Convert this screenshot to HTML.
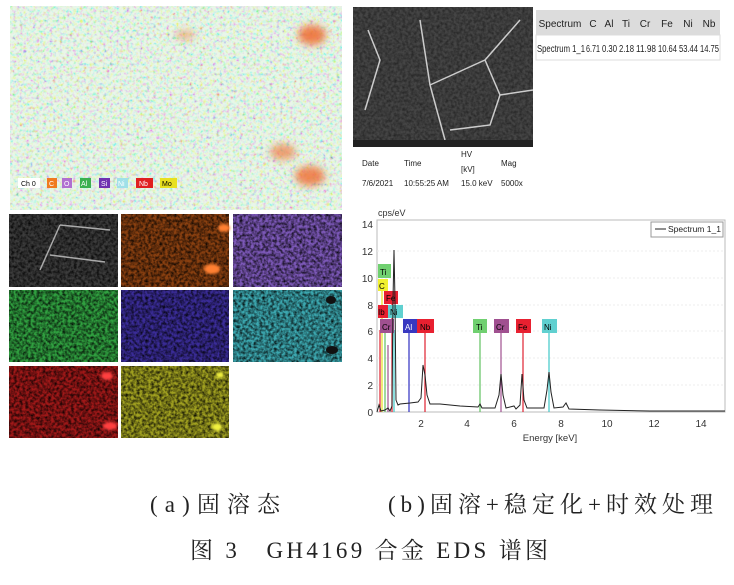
<!DOCTYPE html>
<html><head><meta charset="utf-8"><style>
body{margin:0;background:#fff;width:734px;height:580px;overflow:hidden;font-family:"Liberation Sans",sans-serif}
</style></head><body>
<svg width="734" height="580" viewBox="0 0 734 580" xmlns="http://www.w3.org/2000/svg" font-family="Liberation Sans, sans-serif">
<defs>
<filter id="n" x="0" y="0" width="100%" height="100%"><feTurbulence type="fractalNoise" baseFrequency="0.35" numOctaves="2" seed="3"/><feColorMatrix type="matrix" values="0 0 0 0 0  0 0 0 0 0  0 0 0 0 0  0 0 0 -1.6 1.1"/><feComposite in2="SourceGraphic" operator="in"/></filter>
<filter id="c" x="0" y="0" width="100%" height="100%"><feTurbulence type="fractalNoise" baseFrequency="0.3" numOctaves="2" seed="7"/><feColorMatrix type="matrix" values="3 0 0 0 -0.6  0 3 0 0 -0.5  0 0 3 0 -0.6  0 0 0 0 0.6"/><feComposite in2="SourceGraphic" operator="in"/></filter>
<filter id="b"><feGaussianBlur stdDeviation="4"/></filter>
<filter id="b2"><feGaussianBlur stdDeviation="1.2"/></filter>
</defs>
<rect x="10" y="6" width="332" height="204" fill="#d8eed8"/>
<rect x="10" y="6" width="332" height="204" fill="#fff" filter="url(#c)"/>
<rect x="10" y="6" width="332" height="204" fill="#e0f4e0" opacity=".35"/>
<g filter="url(#b)">
<ellipse cx="312" cy="35" rx="14" ry="10" fill="#f06a30" opacity=".85"/>
<ellipse cx="283" cy="152" rx="13" ry="8" fill="#f07a40" opacity=".7"/>
<ellipse cx="310" cy="176" rx="15" ry="10" fill="#f06a30" opacity=".8"/>
<ellipse cx="185" cy="35" rx="10" ry="4" fill="#f07a40" opacity=".6"/>
</g>
<g font-size="7">
<rect x="18" y="178" width="22" height="10" fill="#fff"/><text x="21" y="186">Ch 0</text>
<rect x="47" y="178" width="10" height="10" fill="#f07a20"/><text x="49" y="186" fill="#fff">C</text>
<rect x="62" y="178" width="10" height="10" fill="#b070d0"/><text x="64" y="186" fill="#fff">O</text>
<rect x="80" y="178" width="11" height="10" fill="#3cb050"/><text x="81" y="186" fill="#fff">Al</text>
<rect x="99" y="178" width="11" height="10" fill="#7030b0"/><text x="101" y="186" fill="#fff">Si</text>
<rect x="117" y="178" width="11" height="10" fill="#a0e0e8"/><text x="118" y="186" fill="#fff">Ni</text>
<rect x="136" y="178" width="17" height="10" fill="#e02020"/><text x="139" y="186" fill="#fff">Nb</text>
<rect x="160" y="178" width="17" height="10" fill="#e8e020"/><text x="162" y="186">Mo</text>
</g>
<g>
<rect x="9" y="214" width="109" height="73" fill="#3c3c3c"/>
<rect x="121" y="214" width="108" height="73" fill="#8a4010"/>
<rect x="233" y="214" width="109" height="73" fill="#7c58b8"/>
<rect x="9" y="290" width="109" height="72" fill="#30a040"/>
<rect x="121" y="290" width="108" height="72" fill="#3a2c98"/>
<rect x="233" y="290" width="109" height="72" fill="#3ca8b0"/>
<rect x="9" y="366" width="109" height="72" fill="#a01818"/>
<rect x="121" y="366" width="108" height="72" fill="#a0a020"/>
</g>
<g filter="url(#n)" fill="#000">
<rect x="9" y="214" width="109" height="73"/><rect x="121" y="214" width="108" height="73"/><rect x="233" y="214" width="109" height="73"/>
<rect x="9" y="290" width="109" height="72"/><rect x="121" y="290" width="108" height="72"/><rect x="233" y="290" width="109" height="72"/>
<rect x="9" y="366" width="109" height="72"/><rect x="121" y="366" width="108" height="72"/>
</g>
<path d="M60 225 L40 270 M60 225 L110 230 M50 255 L105 262" stroke="#aaa" stroke-width="1.5" fill="none"/>
<g filter="url(#b2)"><ellipse cx="224" cy="228" rx="6" ry="4" fill="#ff8030"/><ellipse cx="212" cy="269" rx="8" ry="5" fill="#ff8030"/>
<ellipse cx="107" cy="376" rx="6" ry="4" fill="#ff4040"/><ellipse cx="110" cy="426" rx="7" ry="4" fill="#ff4040"/>
<ellipse cx="220" cy="375" rx="4" ry="3" fill="#f0f040"/><ellipse cx="217" cy="427" rx="5" ry="4" fill="#f0f040"/></g>
<ellipse cx="331" cy="300" rx="5" ry="4" fill="#111"/><ellipse cx="332" cy="350" rx="6" ry="4" fill="#111"/>
<rect x="353" y="7" width="180" height="140" fill="#454545"/>
<rect x="353" y="7" width="180" height="133" fill="#000" filter="url(#n)" opacity=".5"/>
<path d="M368 30 L380 60 L365 110 M420 20 L430 85 L445 140 M430 85 L485 60 L500 95 L490 125 L450 130 M485 60 L520 20 M500 95 L533 90" stroke="#ccc" stroke-width="1.5" fill="none"/>
<rect x="353" y="140" width="180" height="7" fill="#222"/>
<g font-size="8" fill="#222">
<text x="362" y="166">Date</text><text x="404" y="166">Time</text><text x="461" y="157">HV</text><text x="461" y="172">[kV]</text><text x="501" y="166">Mag</text>
<text x="362" y="186">7/6/2021</text><text x="404" y="186">10:55:25 AM</text><text x="461" y="186">15.0 keV</text><text x="501" y="186">5000x</text>
</g>
<rect x="536" y="10" width="184" height="25" fill="#dcdcdc"/>
<rect x="536" y="35" width="184" height="25" fill="#fff" stroke="#ddd"/>
<g font-size="10" fill="#222" text-anchor="middle">
<text x="560" y="27">Spectrum</text><text x="593" y="27">C</text><text x="609" y="27">Al</text><text x="626" y="27">Ti</text><text x="645" y="27">Cr</text><text x="667" y="27">Fe</text><text x="688" y="27">Ni</text><text x="709" y="27">Nb</text>
</g>
<g font-size="10" fill="#222">
<text x="537" y="52" textLength="48" lengthAdjust="spacingAndGlyphs">Spectrum 1_1</text>
<text x="586" y="52" textLength="14" lengthAdjust="spacingAndGlyphs">6.71</text>
<text x="602" y="52" textLength="15" lengthAdjust="spacingAndGlyphs">0.30</text>
<text x="619" y="52" textLength="15" lengthAdjust="spacingAndGlyphs">2.18</text>
<text x="636" y="52" textLength="20" lengthAdjust="spacingAndGlyphs">11.98</text>
<text x="658" y="52" textLength="19" lengthAdjust="spacingAndGlyphs">10.64</text>
<text x="679" y="52" textLength="19" lengthAdjust="spacingAndGlyphs">53.44</text>
<text x="700" y="52" textLength="19" lengthAdjust="spacingAndGlyphs">14.75</text>
</g>
<rect x="377" y="220" width="348" height="192" fill="#fff" stroke="#bbb"/>
<g stroke="#eee" stroke-dasharray="2,2"><line x1="377" y1="251" x2="725" y2="251"/><line x1="377" y1="278" x2="725" y2="278"/><line x1="377" y1="305" x2="725" y2="305"/><line x1="377" y1="331" x2="725" y2="331"/><line x1="377" y1="358" x2="725" y2="358"/><line x1="377" y1="385" x2="725" y2="385"/></g>
<g font-size="10" fill="#333" text-anchor="end">
<text x="373" y="416">0</text><text x="373" y="389">2</text><text x="373" y="362">4</text><text x="373" y="335">6</text><text x="373" y="309">8</text><text x="373" y="282">10</text><text x="373" y="255">12</text><text x="373" y="228">14</text>
</g>
<text x="378" y="216" font-size="9" fill="#333">cps/eV</text>
<g font-size="10" fill="#333" text-anchor="middle">
<text x="421" y="427">2</text><text x="467" y="427">4</text><text x="514" y="427">6</text><text x="561" y="427">8</text><text x="607" y="427">10</text><text x="654" y="427">12</text><text x="701" y="427">14</text>
<text x="550" y="441" font-size="9.5">Energy [keV]</text>
</g>
<rect x="651" y="222" width="72" height="15" fill="#fff" stroke="#999"/>
<line x1="655" y1="229" x2="666" y2="229" stroke="#222"/><text x="668" y="232" font-size="8.5" fill="#222">Spectrum 1_1</text>
<g stroke-width="1.2">
<line x1="380" y1="330" x2="380" y2="412" stroke="#e02030"/>
<line x1="382" y1="285" x2="382" y2="412" stroke="#e8e020"/>
<line x1="385" y1="330" x2="385" y2="412" stroke="#60c060"/>
<line x1="388" y1="345" x2="388" y2="412" stroke="#a05090"/>
<line x1="392" y1="300" x2="392" y2="412" stroke="#e02030"/>
<line x1="394" y1="330" x2="394" y2="412" stroke="#40c8c8"/>
<line x1="409" y1="330" x2="409" y2="412" stroke="#3030c0"/>
<line x1="425" y1="330" x2="425" y2="412" stroke="#e02030"/>
<line x1="480" y1="330" x2="480" y2="412" stroke="#60c060"/>
<line x1="501" y1="330" x2="501" y2="412" stroke="#a05090"/>
<line x1="523" y1="330" x2="523" y2="412" stroke="#e02030"/>
<line x1="549" y1="330" x2="549" y2="412" stroke="#40c8c8"/>
</g>
<g font-size="8">
<rect x="378" y="264" width="13" height="14" fill="#70d070"/><text x="380" y="275">Ti</text>
<rect x="378" y="279" width="10" height="12" fill="#f0f030"/><text x="379" y="289">C</text>
<rect x="384" y="291" width="14" height="13" fill="#e82030"/><text x="386" y="301">Fe</text>
<rect x="378" y="305" width="10" height="13" fill="#e82030"/><text x="378" y="315">Ib</text>
<rect x="388" y="305" width="15" height="13" fill="#60d0d0"/><text x="390" y="315">Ni</text>
<rect x="380" y="319" width="14" height="14" fill="#a05090"/><text x="382" y="330">Cr</text>
<rect x="403" y="319" width="14" height="14" fill="#3838c0"/><text x="405" y="330" fill="#fff">Al</text>
<rect x="417" y="319" width="17" height="14" fill="#e82030"/><text x="420" y="330">Nb</text>
<rect x="473" y="319" width="14" height="14" fill="#70d070"/><text x="476" y="330">Ti</text>
<rect x="494" y="319" width="15" height="14" fill="#a05090"/><text x="496" y="330">Cr</text>
<rect x="516" y="319" width="15" height="14" fill="#e82030"/><text x="518" y="330">Fe</text>
<rect x="542" y="319" width="15" height="14" fill="#60d0d0"/><text x="544" y="330">Ni</text>
</g>
<path fill="none" stroke="#222" stroke-width="1" d="M377 412 L379 405 L381 411 L385 410 L388 408 L390 411 L392 406 L393 300 L394 250 L395 300 L396 400 L398 405 L400 404 L410 403 L418 402 L421 398 L423 365 L425 375 L427 395 L430 404 L440 404 L460 406 L478 407 L480 404 L482 408 L495 408 L499 395 L501 374 L503 395 L506 408 L514 406 L516 409 L520 405 L522 374 L524 400 L527 408 L544 408 L547 390 L549 372 L551 392 L554 408 L563 407 L566 403 L569 409 L600 410 L650 411 L725 411"/>
<g font-family="Liberation Serif, Noto Serif CJK SC, serif" font-size="23" fill="#222">
<text x="150" y="512" textLength="130" lengthAdjust="spacing">(a)固溶态</text>
<text x="388" y="512" textLength="325" lengthAdjust="spacing">(b)固溶+稳定化+时效处理</text>
<text x="190" y="558" textLength="358" lengthAdjust="spacing">图 3　GH4169 合金 EDS 谱图</text>
</g>
</svg>
</body></html>
